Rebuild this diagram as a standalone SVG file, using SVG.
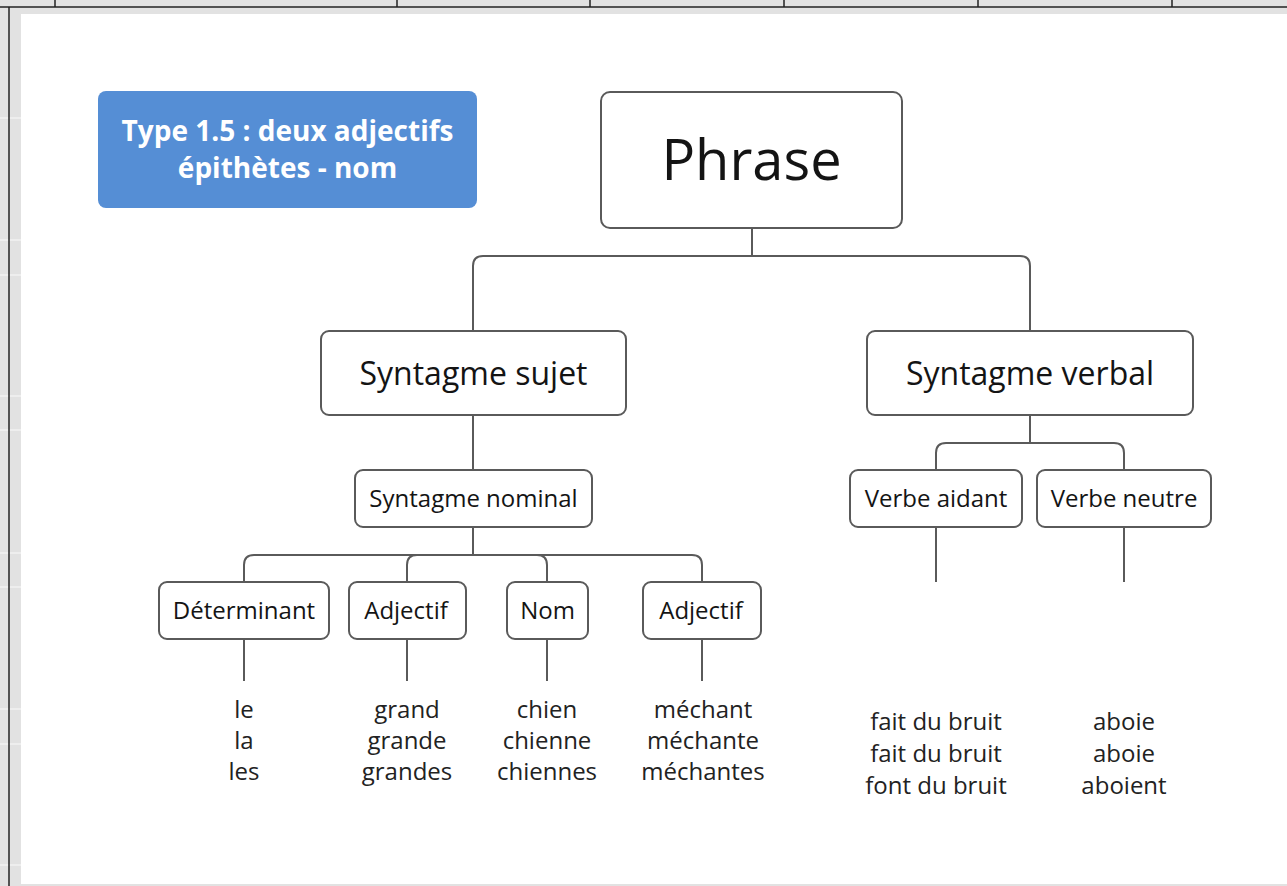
<svg xmlns="http://www.w3.org/2000/svg" width="1287" height="886" viewBox="0 0 1287 886">
<style>
.node rect{fill:#fff;stroke:#5a5a5a;stroke-width:2}
.t{font-family:"Open Sans","Noto Sans",sans-serif;fill:#141414;text-anchor:middle}
.w{font-family:"Open Sans","Noto Sans",sans-serif;fill:#222;text-anchor:middle;font-size:24px}
#connectors path{fill:none;stroke:#5a5a5a;stroke-width:2}
.frame{stroke:#222;stroke-width:1.5}
.grid{stroke:#f2f2f2;stroke-width:1.5}
</style>
<rect x="0" y="0" width="1287" height="886" fill="#e2e2e2"/>
<g class="grid">
<line x1="0" y1="118" x2="21" y2="118"/><line x1="0" y1="240" x2="21" y2="240"/>
<line x1="0" y1="275" x2="21" y2="275"/><line x1="0" y1="396" x2="21" y2="396"/>
<line x1="0" y1="430" x2="21" y2="430"/><line x1="0" y1="553" x2="21" y2="553"/>
<line x1="0" y1="587" x2="21" y2="587"/><line x1="0" y1="709" x2="21" y2="709"/>
<line x1="0" y1="744" x2="21" y2="744"/><line x1="0" y1="865" x2="21" y2="865"/>
</g>
<rect x="21" y="14" width="1266" height="870" fill="#fff"/>
<g class="frame">
<line x1="0" y1="7" x2="1287" y2="7"/>
<line x1="9" y1="7" x2="9" y2="886"/>
<line x1="55" y1="0" x2="55" y2="7"/>
<line x1="397" y1="0" x2="397" y2="7"/>
<line x1="590" y1="0" x2="590" y2="7"/>
<line x1="784" y1="0" x2="784" y2="7"/>
<line x1="978" y1="0" x2="978" y2="7"/>
<line x1="1172" y1="0" x2="1172" y2="7"/>
</g>

<g id="title">
<rect x="98" y="91" width="379" height="117" rx="8" fill="#558ed5"/>
<text class="t" x="287.5" y="141" font-size="28" font-weight="bold" style="fill:#fff">Type 1.5 : deux adjectifs</text>
<text class="t" x="287.5" y="178" font-size="28" font-weight="bold" style="fill:#fff">épithètes - nom</text>
</g>

<g id="connectors">
<path d="M752,228 V256 H483 Q473,256 473,266 V331"/>
<path d="M752,228 V256 H1020 Q1030,256 1030,266 V331"/>
<path d="M473,415 V470"/>
<path d="M473,527 V555 H254 Q244,555 244,565 V582"/>
<path d="M473,527 V555 H417 Q407,555 407,565 V582"/>
<path d="M473,527 V555 H537 Q547,555 547,565 V582"/>
<path d="M473,527 V555 H692 Q702,555 702,565 V582"/>
<path d="M1030,415 V443 H946 Q936,443 936,453 V470"/>
<path d="M1030,415 V443 H1114 Q1124,443 1124,453 V470"/>
<path d="M244,639 V681"/>
<path d="M407,639 V681"/>
<path d="M547,639 V681"/>
<path d="M702,639 V681"/>
<path d="M936,527 V582"/>
<path d="M1124,527 V582"/>
</g>

<g id="phrase" class="node">
<rect x="601" y="92" width="301" height="136" rx="9"/>
<text class="t" x="751.5" y="180" font-size="56">Phrase</text>
</g>
<g id="syntagme-sujet" class="node">
<rect x="321" y="331" width="305" height="84" rx="8"/>
<text class="t" x="473.5" y="385" font-size="32">Syntagme sujet</text>
</g>
<g id="syntagme-verbal" class="node">
<rect x="867" y="331" width="326" height="84" rx="8"/>
<text class="t" x="1030" y="385" font-size="32">Syntagme verbal</text>
</g>
<g id="syntagme-nominal" class="node">
<rect x="355" y="470" width="237" height="57" rx="8"/>
<text class="t" x="473.5" y="507" font-size="24">Syntagme nominal</text>
</g>
<g id="verbe-aidant" class="node">
<rect x="850" y="470" width="172" height="57" rx="8"/>
<text class="t" x="936" y="507" font-size="24">Verbe aidant</text>
</g>
<g id="verbe-neutre" class="node">
<rect x="1037" y="470" width="174" height="57" rx="8"/>
<text class="t" x="1124" y="507" font-size="24">Verbe neutre</text>
</g>
<g id="determinant" class="node">
<rect x="159" y="582" width="170" height="57" rx="8"/>
<text class="t" x="244" y="619" font-size="24">Déterminant</text>
</g>
<g id="adjectif1" class="node">
<rect x="349" y="582" width="117" height="57" rx="8"/>
<text class="t" x="406" y="619" font-size="24">Adjectif</text>
</g>
<g id="nom" class="node">
<rect x="507" y="582" width="81" height="57" rx="8"/>
<text class="t" x="547.5" y="619" font-size="24">Nom</text>
</g>
<g id="adjectif2" class="node">
<rect x="643" y="582" width="118" height="57" rx="8"/>
<text class="t" x="701" y="619" font-size="24">Adjectif</text>
</g>

<g id="words">
<text class="w" x="244" y="718">le</text>
<text class="w" x="244" y="749">la</text>
<text class="w" x="244" y="780">les</text>
<text class="w" x="407" y="718">grand</text>
<text class="w" x="407" y="749">grande</text>
<text class="w" x="407" y="780">grandes</text>
<text class="w" x="547" y="718">chien</text>
<text class="w" x="547" y="749">chienne</text>
<text class="w" x="547" y="780">chiennes</text>
<text class="w" x="703" y="718">méchant</text>
<text class="w" x="703" y="749">méchante</text>
<text class="w" x="703" y="780">méchantes</text>
<text class="w" x="936" y="730">fait du bruit</text>
<text class="w" x="936" y="762">fait du bruit</text>
<text class="w" x="936" y="794">font du bruit</text>
<text class="w" x="1124" y="730">aboie</text>
<text class="w" x="1124" y="762">aboie</text>
<text class="w" x="1124" y="794">aboient</text>
</g>
</svg>
